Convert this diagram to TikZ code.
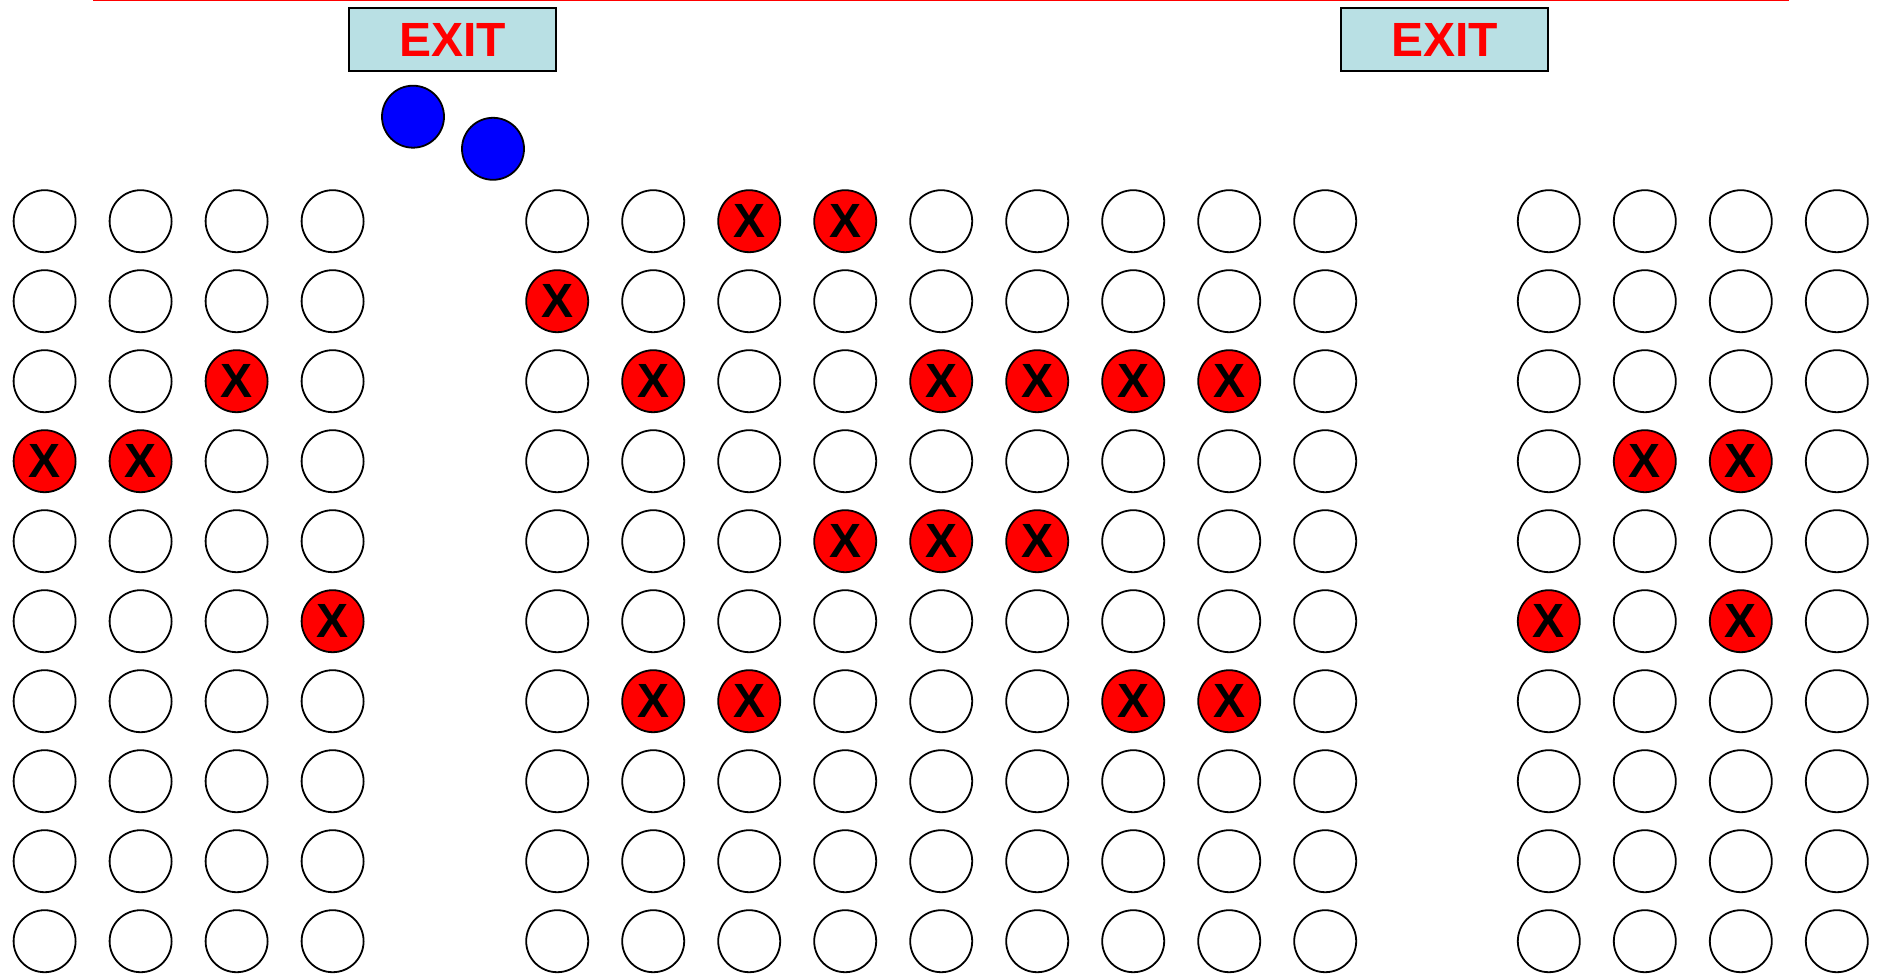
\documentclass[tikz,border=0pt]{standalone}
\usepackage{fontspec}
\setmainfont{Liberation Sans}
\definecolor{exitbg}{RGB}{185,224,228}
\newcommand\markseat[1]{\expandafter\def\csname tk-#1\endcsname{}}
\markseat{L-2-2}\markseat{L-3-0}\markseat{L-3-1}\markseat{L-5-3}
\markseat{M-0-2}\markseat{M-0-3}\markseat{M-1-0}
\markseat{M-2-1}\markseat{M-2-4}\markseat{M-2-5}\markseat{M-2-6}\markseat{M-2-7}
\markseat{M-4-3}\markseat{M-4-4}\markseat{M-4-5}
\markseat{M-6-1}\markseat{M-6-2}\markseat{M-6-6}\markseat{M-6-7}
\markseat{R-3-1}\markseat{R-3-2}\markseat{R-5-0}\markseat{R-5-2}
\begin{document}
\begin{tikzpicture}[x=1pt,y=-1pt,
  seat/.style={circle,draw=black,line width=1.8pt,minimum size=62pt,inner sep=0pt,fill=white},
  taken/.style={seat,fill=red,text=black,font=\bfseries\fontsize{48}{48}\selectfont},
  person/.style={circle,draw=black,line width=1.8pt,minimum size=62pt,inner sep=0pt,fill=blue},
  exitsign/.style={draw=black,line width=1.8pt,fill=exitbg,minimum width=207pt,minimum height=62.5pt,inner sep=0pt,text=red,font=\bfseries\fontsize{48}{48}\selectfont}]
\useasboundingbox (0,0) rectangle (1892,976);
% top red line
\coordinate (la) at (93,0.8);
\coordinate (lb) at (1789,0.8);
\draw[red,line width=1.4pt] (la) -- (lb);
% exit signs
\node[exitsign] (exitA) at (452.7,39.5) {EXIT};
\node[exitsign] (exitB) at (1444.8,39.5) {EXIT};
% people
\node[person] (p1) at (413,116.7) {};
\node[person] (p2) at (493,148.8) {};
% seats
\foreach \s/\xs/\n in {L/44.6/3, M/557.2/8, R/1548.8/3} {
  \foreach \c in {0,...,\n} {
    \foreach \r in {0,...,9} {
      \ifcsname tk-\s-\r-\c\endcsname
        \node[taken] (\s-\r-\c) at ({\xs+96*\c},{221.2+80*\r}) {X};
      \else
        \node[seat] (\s-\r-\c) at ({\xs+96*\c},{221.2+80*\r}) {};
      \fi
    }
  }
}
\end{tikzpicture}
\end{document}
